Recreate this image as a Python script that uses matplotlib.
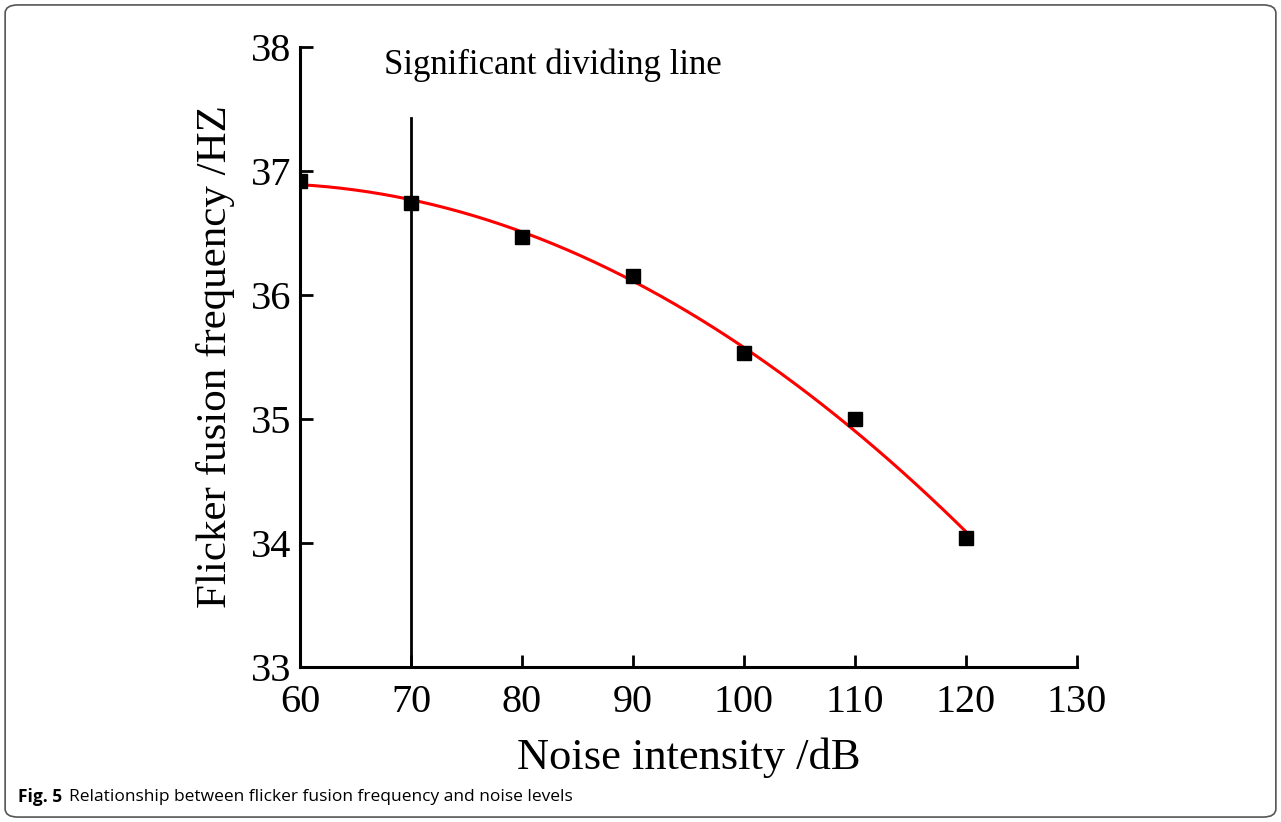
import numpy as np
import matplotlib.pyplot as plt
from matplotlib.patches import FancyBboxPatch

# data
noise_db = [60, 70, 80, 90, 100, 110, 120]
flicker_hz = [36.92, 36.74, 36.47, 36.15, 35.53, 35.0, 34.04]
x_ticks = [60, 70, 80, 90, 100, 110, 120, 130]
y_ticks = [33, 34, 35, 36, 37, 38]
divide_x = 70
divide_top = 37.43

plt.rcParams['font.family'] = ['Liberation Serif', 'DejaVu Serif']

fig = plt.figure(figsize=(12.81, 8.22), dpi=100)
ax = fig.add_axes([0.2342, 0.1886, 0.6065, 0.7542])

# quadratic fit for the red curve
coef = np.polyfit(noise_db, flicker_hz, 2)
xs = np.linspace(min(noise_db), max(noise_db), 200)
ax.plot(xs, np.polyval(coef, xs), color="red", lw=2.2, zorder=2)
ax.plot(noise_db, flicker_hz, "s", color="black", ms=10, zorder=3)

ax.plot([divide_x, divide_x], [33, divide_top], color="black", lw=2, zorder=1)
ax.text(divide_x - 2.4, 37.72, "Significant dividing line", fontsize=25,
        ha="left", va="bottom")

ax.set_xlim(60, 130)
ax.set_ylim(33, 38)
ax.set_xticks(x_ticks)
ax.set_yticks(y_ticks)
ax.spines["top"].set_visible(False)
ax.spines["right"].set_visible(False)
for s in ["left", "bottom"]:
    ax.spines[s].set_linewidth(2.2)
ax.tick_params(direction="in", length=9, width=2, labelsize=29)
ax.tick_params(axis="x", pad=12)
ax.tick_params(axis="y", pad=6)
ax.set_xlabel("Noise intensity /dB", fontsize=32, labelpad=12)
ax.set_ylabel("Flicker fusion frequency /HZ", fontsize=31, labelpad=12)

# caption and frame
fig.text(0.014, 0.031, "Fig. 5", fontsize=12.5, fontweight="bold",
         family=["Open Sans", "DejaVu Sans"], va="center")
fig.text(0.0535, 0.031, "Relationship between flicker fusion frequency and noise levels",
         fontsize=12.5, family=["Open Sans", "DejaVu Sans"], va="center")
frame = FancyBboxPatch((0.004, 0.006), 0.992, 0.988,
                       boxstyle="round,pad=0,rounding_size=0.01",
                       transform=fig.transFigure, fill=False,
                       edgecolor="#555555", lw=1.2)
fig.patches.append(frame)

fig.savefig("out.png", dpi=100)
